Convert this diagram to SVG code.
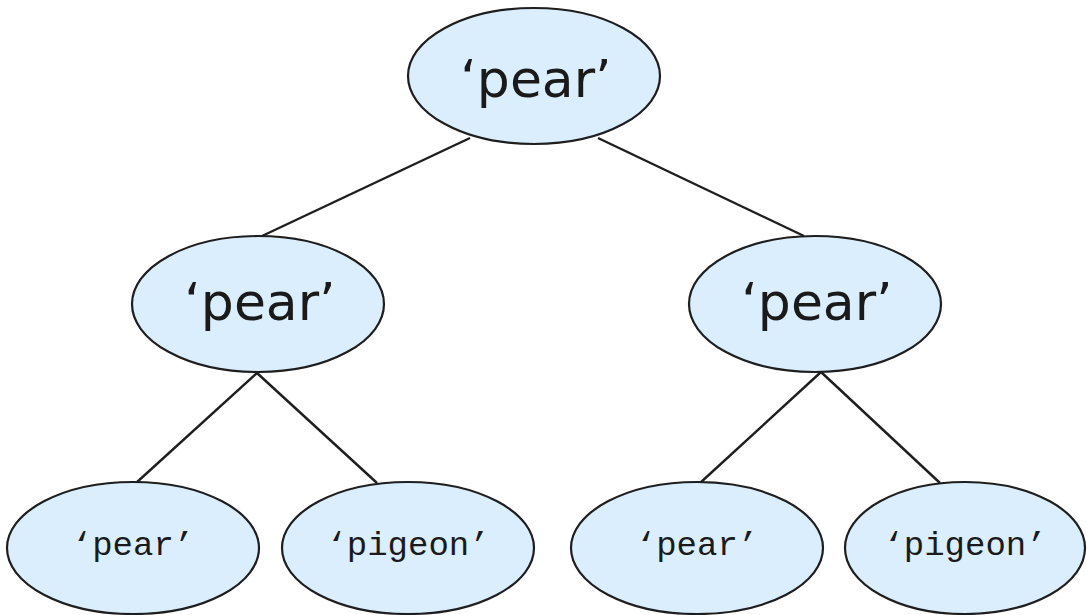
<svg xmlns="http://www.w3.org/2000/svg" width="1087" height="615" viewBox="0 0 1087 615">
<style>
.node ellipse{fill:#dbeefd;stroke:#1e1e1e;stroke-width:2.2}
.big{font-family:"DejaVu Sans","Noto Sans",sans-serif;font-size:52px;fill:#1a1a1a;text-anchor:middle}
.small{font-family:"Liberation Mono","DejaVu Sans Mono",monospace;font-size:34px;fill:#1a1a1a;text-anchor:middle}
.edges line{stroke:#1e1e1e;stroke-width:2.4}
</style>
<rect width="1087" height="615" fill="#ffffff"/>
<g class="edges">
<line x1="470" y1="138" x2="262" y2="236"/>
<line x1="598" y1="138" x2="804" y2="236"/>
<line x1="257" y1="373" x2="136" y2="483"/>
<line x1="257" y1="373" x2="377" y2="483"/>
<line x1="821" y1="372" x2="700" y2="483"/>
<line x1="821" y1="372" x2="940" y2="483"/>
</g>
<g id="root" class="node"><ellipse cx="534" cy="76" rx="126" ry="68"/><text class="big" x="536" y="97">‘pear’</text></g>
<g id="left" class="node"><ellipse cx="258" cy="304" rx="126" ry="68"/><text class="big" x="260" y="320">‘pear’</text></g>
<g id="right" class="node"><ellipse cx="815" cy="304" rx="126" ry="68"/><text class="big" x="817" y="320">‘pear’</text></g>
<g id="ll" class="node"><ellipse cx="133" cy="548" rx="126" ry="66"/><text class="small" x="133" y="555">‘pear’</text></g>
<g id="lr" class="node"><ellipse cx="408" cy="548" rx="126" ry="66"/><text class="small" x="408" y="555">‘pigeon’</text></g>
<g id="rl" class="node"><ellipse cx="697" cy="548" rx="126" ry="66"/><text class="small" x="697" y="555">‘pear’</text></g>
<g id="rr" class="node"><ellipse cx="965" cy="548" rx="120" ry="66"/><text class="small" x="965" y="555">‘pigeon’</text></g>
</svg>
